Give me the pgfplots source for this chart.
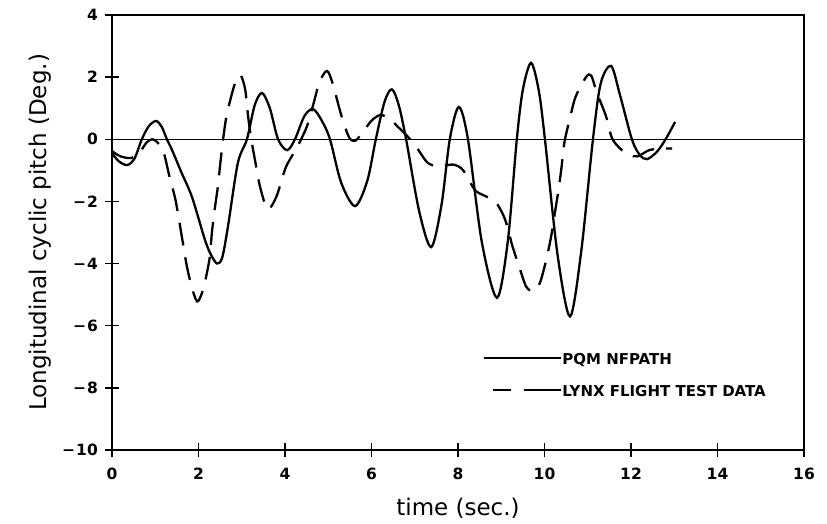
\documentclass[border=0pt]{standalone}
\usepackage{fontspec}
\setmainfont{DejaVu Sans}
\usepackage{pgfplots}
\pgfplotsset{compat=1.18}

\begin{document}
\begin{tikzpicture}
\begin{axis}[
  at={(0pt,0pt)}, anchor=south west,
  scale only axis,
  width=692pt, height=435pt,
  xmin=0, xmax=16, ymin=-10, ymax=4,
  xtick={0,2,...,16},
  xticklabels={0,2,4,6,8,10,12,14,16},
  ytick={-10,-8,...,4},
  yticklabels={−\kern1pt10,−\kern1pt8,−\kern1pt6,−\kern1pt4,−\kern1pt2,0,2,4},
  tick pos=left,
  tick align=center,
  major tick length=14pt,
  every tick/.style={black, line width=1.5pt},
  axis line style={line width=1.8pt},
  ticklabel style={font=\fontsize{15.5}{18}\selectfont\bfseries},
  yticklabel style={inner sep=0pt, anchor=east, xshift=-7pt},
  xticklabel style={inner sep=0pt, anchor=north, yshift=-11pt},
  xlabel={time (sec.)},
  ylabel={Longitudinal cyclic pitch (Deg.)},
  label style={font=\fontsize{23}{27}\selectfont},
  xlabel style={at={(axis description cs:0.5,-0.1517)}, anchor=base},
  ylabel style={at={(axis description cs:-0.094,0.5)}, anchor=base, rotate=0},
  legend style={
    draw=none, fill=none, inner sep=0pt,
    at={(rel axis cs:0.536,0.2253)}, anchor=north west,
    font=\fontsize{15}{18}\selectfont\bfseries,
    nodes={inner sep=0pt, text height=12pt, text depth=0pt},
    row sep=20pt,
    /tikz/every even column/.append style={column sep=8pt},
  },
  legend cell align=left,
]

% zero reference line
\addplot[forget plot, black, line width=1.1pt] coordinates {(0,0) (16,0)};

% PQM NFPATH simulation
\addplot[black, line width=2.3pt, smooth, tension=0.5,
  legend image code/.code={\draw[black, line width=2.3pt] (0pt,0pt) -- (77pt,0pt);}]
coordinates {
(0,-0.44) (0.15,-0.7) (0.35,-0.83) (0.52,-0.62) (0.69,0) (0.85,0.42) (1.02,0.59)
(1.15,0.4) (1.27,0) (1.39,-0.35) (1.6,-1.05) (1.85,-1.86) (2.15,-3.24) (2.29,-3.72)
(2.43,-4.0) (2.55,-3.8) (2.68,-2.82) (2.91,-0.76) (3.12,0) (3.3,1.1) (3.47,1.49)
(3.65,1.0) (3.84,0) (4.05,-0.35) (4.23,0) (4.45,0.75) (4.65,0.97) (4.85,0.6)
(5.04,0) (5.3,-1.4) (5.62,-2.15) (5.9,-1.35) (6.1,0) (6.3,1.2) (6.47,1.61)
(6.63,1.1) (6.8,0) (7.1,-2.3) (7.38,-3.47) (7.62,-2.1) (7.81,0) (8.02,1.04)
(8.23,0) (8.55,-3.3) (8.9,-5.1) (9.15,-3.3) (9.36,0) (9.5,1.6) (9.69,2.46)
(9.87,1.55) (10.01,0) (10.3,-3.7) (10.59,-5.7) (10.85,-3.6) (11.12,0) (11.3,1.8)
(11.54,2.36) (11.75,1.4) (12.02,0) (12.2,-0.5) (12.37,-0.64) (12.6,-0.4)
(12.8,0) (13.02,0.56)
};
\addlegendentry{PQM NFPATH}

% Lynx flight test record
\addplot[black, line width=2.3pt, smooth, tension=0.5, dash pattern=on 23pt off 12pt,
  legend image code/.code={\draw[black, line width=2.3pt, dash pattern=on 18pt off 13pt on 40pt off 0pt] (9pt,0pt) -- (77pt,0pt);}]
coordinates {
(0,-0.38) (0.2,-0.55) (0.45,-0.6) (0.65,-0.4) (0.8,-0.1) (0.93,0) (1.05,-0.1)
(1.2,-0.45) (1.32,-1.15) (1.46,-1.9) (1.55,-2.6) (1.64,-3.34) (1.73,-4.08)
(1.85,-4.79) (1.97,-5.22) (2.08,-4.95) (2.17,-4.46) (2.26,-3.8) (2.31,-3.0)
(2.37,-2.3) (2.45,-1.5) (2.5,-0.83) (2.56,-0.1) (2.64,0.69) (2.76,1.4)
(2.88,1.95) (2.98,2.05) (3.08,1.6) (3.15,0.7) (3.22,0) (3.33,-0.85) (3.43,-1.57)
(3.6,-2.25) (3.8,-1.85) (4.02,-0.9) (4.27,-0.28) (4.5,0.39) (4.65,1.1)
(4.8,1.85) (4.97,2.2) (5.1,1.8) (5.3,0.78) (5.48,0.07) (5.62,-0.05) (5.8,0.23)
(6.0,0.6) (6.2,0.78) (6.4,0.68) (6.59,0.43) (6.96,-0.1) (7.28,-0.73)
(7.5,-0.86) (7.7,-0.84) (7.92,-0.82) (8.12,-1.0) (8.39,-1.63) (8.62,-1.82)
(8.86,-2.0) (9.05,-2.45) (9.16,-2.9) (9.25,-3.4) (9.41,-4.08) (9.58,-4.75)
(9.75,-4.88) (9.9,-4.6) (10.06,-3.76) (10.17,-3.0) (10.25,-2.28) (10.33,-1.57)
(10.4,-0.83) (10.46,-0.1) (10.59,0.69) (10.72,1.37) (10.96,2.0) (11.08,2.05)
(11.21,1.5) (11.42,0.75) (11.56,0.04) (11.75,-0.3) (11.95,-0.5) (12.15,-0.55)
(12.42,-0.35) (12.7,-0.3) (12.95,-0.3)
};
\addlegendentry{LYNX FLIGHT TEST DATA}

\end{axis}
\pgfresetboundingbox
\path (-112pt,-74pt) rectangle (715pt,450pt);
\end{tikzpicture}
\end{document}
